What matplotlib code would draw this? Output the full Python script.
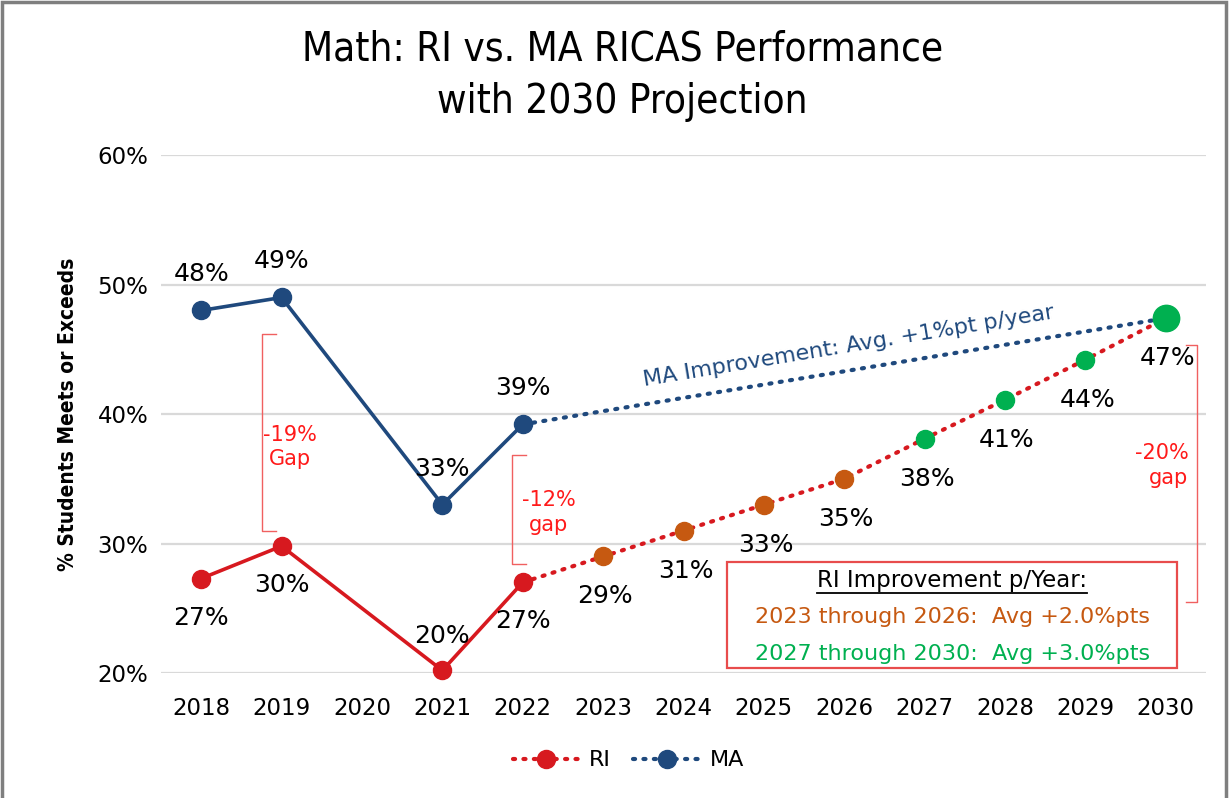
import matplotlib
matplotlib.use("Agg")
import matplotlib.pyplot as plt
from matplotlib.lines import Line2D
from matplotlib.patches import Rectangle
from matplotlib import font_manager
import numpy as np

# ---------------- data ----------------
years = ["2018", "2019", "2020", "2021", "2022", "2023", "2024",
         "2025", "2026", "2027", "2028", "2029", "2030"]

# actual (2020 had no test)
ri_actual = [27.3, 29.8, np.nan, 20.2, 27.0]
ma_actual = [48.0, 49.0, np.nan, 33.0, 39.2]
actual_labels_ri = ["27%", "30%", "", "20%", "27%"]
actual_labels_ma = ["48%", "49%", "", "33%", "39%"]

# projections 2023-2030
ri_proj = [29.0, 31.0, 33.0, 35.0, 38.1, 41.1, 44.2, 47.4]
ri_proj_labels = ["29%", "31%", "33%", "35%", "38%", "41%", "44%", "47%"]
ma_target_2030 = 47.4

ytick_vals = [20, 30, 40, 50, 60]
ytick_labels = ["20%", "30%", "40%", "50%", "60%"]

# ---------------- style ----------------
RED = "#D7191F"
NAVY = "#1F497D"
ORANGE = "#C65911"
GREEN = "#00B050"
ANN_RED = "#FF1A1A"
proj_colors = [ORANGE] * 4 + [GREEN] * 4

cond_ok = any("Condensed" in f.fname and f.name == "DejaVu Sans"
              for f in font_manager.fontManager.ttflist)
COND = dict(family="DejaVu Sans", stretch="condensed") if cond_ok else dict(family="DejaVu Sans")

fig = plt.figure(figsize=(12.3, 7.98), dpi=100)
ax = fig.add_axes([0.1309, 0.1566, 0.8496, 0.6491])

x = np.arange(len(years))
x_act = x[:5]
x_proj = x[5:]

ax.set_xlim(-0.5, len(years) - 0.5)
ax.set_ylim(20, 60)

# grid
ax.set_yticks(ytick_vals)
ax.set_yticklabels(ytick_labels)
ax.yaxis.grid(True, color="#D9D9D9", linewidth=1.6)
ax.set_axisbelow(True)
for s in ax.spines.values():
    s.set_visible(False)
ax.tick_params(axis="both", length=0, labelsize=16.5, colors="black")
ax.tick_params(axis="x", pad=17)
ax.tick_params(axis="y", pad=9)
ax.set_xticks(x)
ax.set_xticklabels(years)

DOT = (0, (0.5, 2.0))
# dotted projection lines
ax.plot([x_act[-1]] + list(x_proj), [ri_actual[-1]] + ri_proj,
        color=RED, linestyle=DOT, linewidth=3,
        dash_capstyle="round", zorder=2)
ax.plot([x_act[-1], x[-1]], [ma_actual[-1], ma_target_2030],
        color=NAVY, linestyle=DOT, linewidth=3,
        dash_capstyle="round", zorder=2)

# solid actual lines
ma_a = np.array(ma_actual)
ri_a = np.array(ri_actual)
m = ~np.isnan(ma_a)
ax.plot(x_act[m], ma_a[m], color=NAVY, linewidth=2.6, marker="o",
        markersize=13, zorder=3, clip_on=False)
m = ~np.isnan(ri_a)
ax.plot(x_act[m], ri_a[m], color=RED, linewidth=2.6, marker="o",
        markersize=13, zorder=3, clip_on=False)

# projected markers
sizes = [13] * 7 + [19]
for xi, yi, c, s in zip(x_proj, ri_proj, proj_colors, sizes):
    ax.plot([xi], [yi], marker="o", color=c, markersize=s, zorder=4,
            linestyle="none", clip_on=False)

# labels
lab_kw = dict(textcoords="offset pixels", ha="center", va="center",
              fontsize=18, color="black", zorder=5)
for xi, yi, t in zip(x_act, ma_actual, actual_labels_ma):
    if t:
        ax.annotate(t, (xi, yi), xytext=(0, 36), **lab_kw)
for xi, yi, t in zip(x_act, ri_actual, actual_labels_ri):
    if t:
        dy = 34 if t == "20%" else -39
        ax.annotate(t, (xi, yi), xytext=(0, dy), **lab_kw)
for xi, yi, t in zip(x_proj, ri_proj, ri_proj_labels):
    ax.annotate(t, (xi, yi), xytext=(2, -40), **lab_kw)

# brackets
def bracket(xb, y0, y1, tick):
    ax.plot([xb + tick, xb, xb, xb + tick], [y0, y0, y1, y1],
            color="#F06060", linewidth=1, zorder=2, clip_on=False)

bracket(0.76, 31.0, 46.2, 0.17)
ax.text(1.11, 37.45, "-19%\nGap", color=ANN_RED, fontsize=15,
        ha="center", va="center", linespacing=1.3)
bracket(3.87, 28.4, 36.8, 0.17)
ax.text(4.32, 32.4, "-12%\ngap", color=ANN_RED, fontsize=15,
        ha="center", va="center", linespacing=1.3)
bracket(12.39, 25.5, 45.3, -0.14)
ax.text(12.28, 36.0, "-20%\ngap", color=ANN_RED, fontsize=15,
        ha="right", va="center", linespacing=1.3, multialignment="right")

# MA improvement text along line
p0 = ax.transData.transform((x_act[-1], ma_actual[-1]))
p1 = ax.transData.transform((x[-1], ma_target_2030))
ang = np.degrees(np.arctan2(p1[1] - p0[1], p1[0] - p0[0]))
ax.text(8.05, 45.2, "MA Improvement: Avg. +1%pt p/year", color=NAVY,
        fontsize=16, rotation=ang, rotation_mode="anchor",
        ha="center", va="center")

# RI improvement box
box = Rectangle((0.5416, 0.0097), 0.4306, 0.2046, transform=ax.transAxes,
                facecolor="white", edgecolor="#E84C4C", linewidth=1.6,
                zorder=6)
ax.add_patch(box)
hdr = ax.text(0.757, 0.1795, "RI Improvement p/Year:", transform=ax.transAxes,
              ha="center", va="center", fontsize=16.5, color="black", zorder=7)
ax.text(0.757, 0.108, "2023 through 2026:  Avg +2.0%pts", transform=ax.transAxes,
        ha="center", va="center", fontsize=16, color=ORANGE, zorder=7)
ax.text(0.757, 0.0367, "2027 through 2030:  Avg +3.0%pts", transform=ax.transAxes,
        ha="center", va="center", fontsize=16, color=GREEN, zorder=7)

# axis label
ax.set_ylabel("% Students Meets or Exceeds", fontsize=15, fontweight="bold",
              labelpad=14, **COND)

# title
fig.text(0.506, 0.905, "Math: RI vs. MA RICAS Performance\nwith 2030 Projection",
         ha="center", va="center", fontsize=29, linespacing=1.4, **COND)

# legend
handles = [
    Line2D([], [], color=RED, linestyle=DOT, linewidth=3,
           dash_capstyle="round", marker="o", markersize=13),
    Line2D([], [], color=NAVY, linestyle=DOT, linewidth=3,
           dash_capstyle="round", marker="o", markersize=13),
]
fig.legend(handles, ["RI", "MA"], loc="center", bbox_to_anchor=(0.511, 0.047),
           ncol=2, frameon=False, fontsize=16, handlelength=3.0,
           handletextpad=0.45, columnspacing=1.0)

# figure border
fig.patches.append(Rectangle((0.002, -0.01), 0.995, 1.007,
                             transform=fig.transFigure, fill=False,
                             edgecolor="#7F7F7F", linewidth=2.5))

# underline for box header
fig.canvas.draw()
bb = hdr.get_window_extent(renderer=fig.canvas.get_renderer())
inv = ax.transAxes.inverted()
(ux0, uy0), (ux1, _) = inv.transform([(bb.x0, bb.y0 - 1), (bb.x1, bb.y0)])
ax.plot([ux0, ux1], [uy0, uy0], transform=ax.transAxes, color="black",
        linewidth=1.3, zorder=7)

fig.savefig("out.png", dpi=100)
